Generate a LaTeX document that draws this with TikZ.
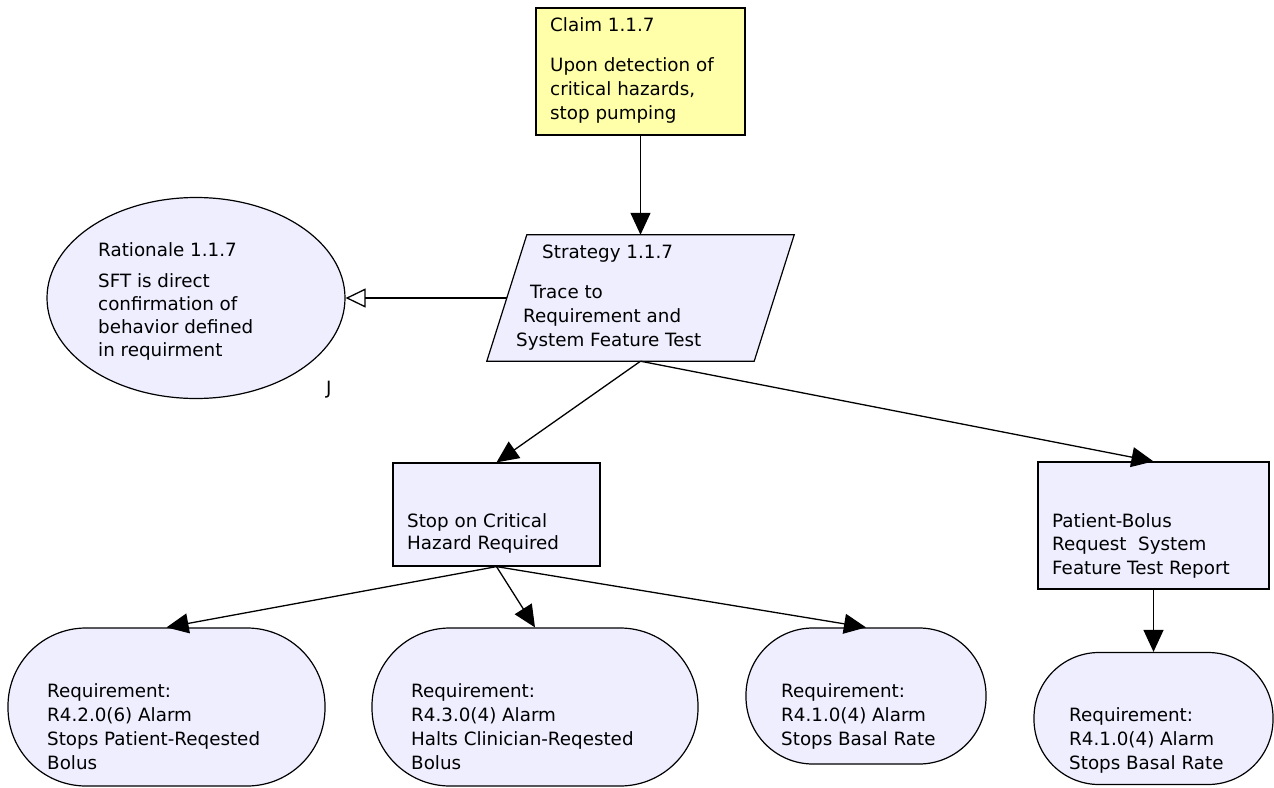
\documentclass[tikz,border=0pt]{standalone}
\usepackage{fontspec}
\setmainfont{DejaVu Sans}
\usetikzlibrary{arrows.meta,calc,shapes.geometric}
\definecolor{claimfill}{RGB}{255,255,170}
\definecolor{lav}{RGB}{238,238,255}
\begin{document}
\begin{tikzpicture}[x=1pt,y=-1pt,
  box/.style={draw=black,line width=1.2pt,inner sep=0pt,rectangle},
  claimbox/.style={box,fill=claimfill},
  plainbox/.style={box,fill=lav},
  reqbox/.style={box,fill=lav},
  ratbox/.style={draw=black,line width=1.2pt,fill=lav,ellipse,inner sep=0pt},
  txt/.style={anchor=base west,inner sep=0pt,font=\fontsize{18.3}{24}\selectfont},
  conn/.style={line width=1.3pt,-{Triangle[length=22pt,width=20pt]}},
  openconn/.style={line width=1.3pt,-{Triangle[open,length=20pt,width=19pt,fill=white]}}]
\useasboundingbox (0,0) rectangle (1274,787);

% goal
\node[claimbox,minimum width=209,minimum height=127] (claim) at (640.5,71.5) {};
\node[txt] (claimT1) at (550,31) {Claim 1.1.7};
\node[txt] (claimT2) at (550,71) {Upon detection of};
\node[txt] (claimT3) at (550,95) {critical hazards,};
\node[txt] (claimT4) at (550,119) {stop pumping};

% strategy (parallelogram drawn around an invisible anchor box)
\node[inner sep=0pt,minimum width=267,minimum height=126] (strat) at (640.5,298) {};
\draw[line width=1.2pt,fill=lav]
  ($(strat.north west)+(20,0)$) -- ($(strat.north east)+(20,0)$) --
  ($(strat.south east)+(-20,0)$) -- ($(strat.south west)+(-20,0)$) -- cycle;
\node[txt] (stratT1) at (542,258) {Strategy 1.1.7};
\node[txt] (stratT2) at (530,298) {Trace to};
\node[txt] (stratT3) at (523,322) {Requirement and};
\node[txt] (stratT4) at (516,346) {System Feature Test};

% rationale
\node[ratbox,minimum width=298,minimum height=201] (rat) at (196,298) {};
\node[txt] (ratT1) at (98,256) {Rationale 1.1.7};
\node[txt] (ratT2) at (98,287) {SFT is direct};
\node[txt] (ratT3) at (98,310) {confirmation of};
\node[txt] (ratT4) at (98,333) {behavior defined};
\node[txt] (ratT5) at (98,356) {in requirment};
\node[txt] (ratJ) at (326,394) {J};

% sub-goals / evidence
\node[plainbox,minimum width=207,minimum height=103] (stop) at (496.5,514.5) {};
\node[txt] (stopT1) at (407,527) {Stop on Critical};
\node[txt] (stopT2) at (407,549) {Hazard Required};

\node[plainbox,minimum width=231,minimum height=127] (pat) at (1153.5,525.5) {};
\node[txt] (patT1) at (1052,527) {Patient-Bolus};
\node[txt] (patT2) at (1052,550) {Request\ \ System};
\node[txt] (patT3) at (1052,574) {Feature Test Report};

% requirements
\node[reqbox,rounded corners=78,minimum width=317,minimum height=158] (r1) at (166.5,707) {};
\node[txt] (r1T1) at (47,697) {Requirement:};
\node[txt] (r1T2) at (47,721) {R4.2.0(6) Alarm};
\node[txt] (r1T3) at (47,745) {Stops Patient-Reqested};
\node[txt] (r1T4) at (47,769) {Bolus};

\node[reqbox,rounded corners=78,minimum width=326,minimum height=158] (r2) at (535,707) {};
\node[txt] (r2T1) at (411,697) {Requirement:};
\node[txt] (r2T2) at (411,721) {R4.3.0(4) Alarm};
\node[txt] (r2T3) at (411,745) {Halts Clinician-Reqested};
\node[txt] (r2T4) at (411,769) {Bolus};

\node[reqbox,rounded corners=67,minimum width=240,minimum height=136] (r3) at (866,696) {};
\node[txt] (r3T1) at (781,697) {Requirement:};
\node[txt] (r3T2) at (781,721) {R4.1.0(4) Alarm};
\node[txt] (r3T3) at (781,745) {Stops Basal Rate};

\node[reqbox,rounded corners=65,minimum width=239,minimum height=132] (r4) at (1153.5,718.5) {};
\node[txt] (r4T1) at (1069,721) {Requirement:};
\node[txt] (r4T2) at (1069,745) {R4.1.0(4) Alarm};
\node[txt] (r4T3) at (1069,769) {Stops Basal Rate};

% connectors
\draw[conn] (claim.south) -- (strat.north);
\draw[openconn] (strat.west) -- (rat.east);
\draw[conn] (strat.south) -- (stop.north);
\draw[conn] (strat.south) -- (pat.north);
\draw[conn] (stop.south) -- (r1.north);
\draw[conn] (stop.south) -- (r2.north);
\draw[conn] (stop.south) -- (r3.north);
\draw[conn] (pat.south) -- (r4.north);
\end{tikzpicture}
\end{document}
